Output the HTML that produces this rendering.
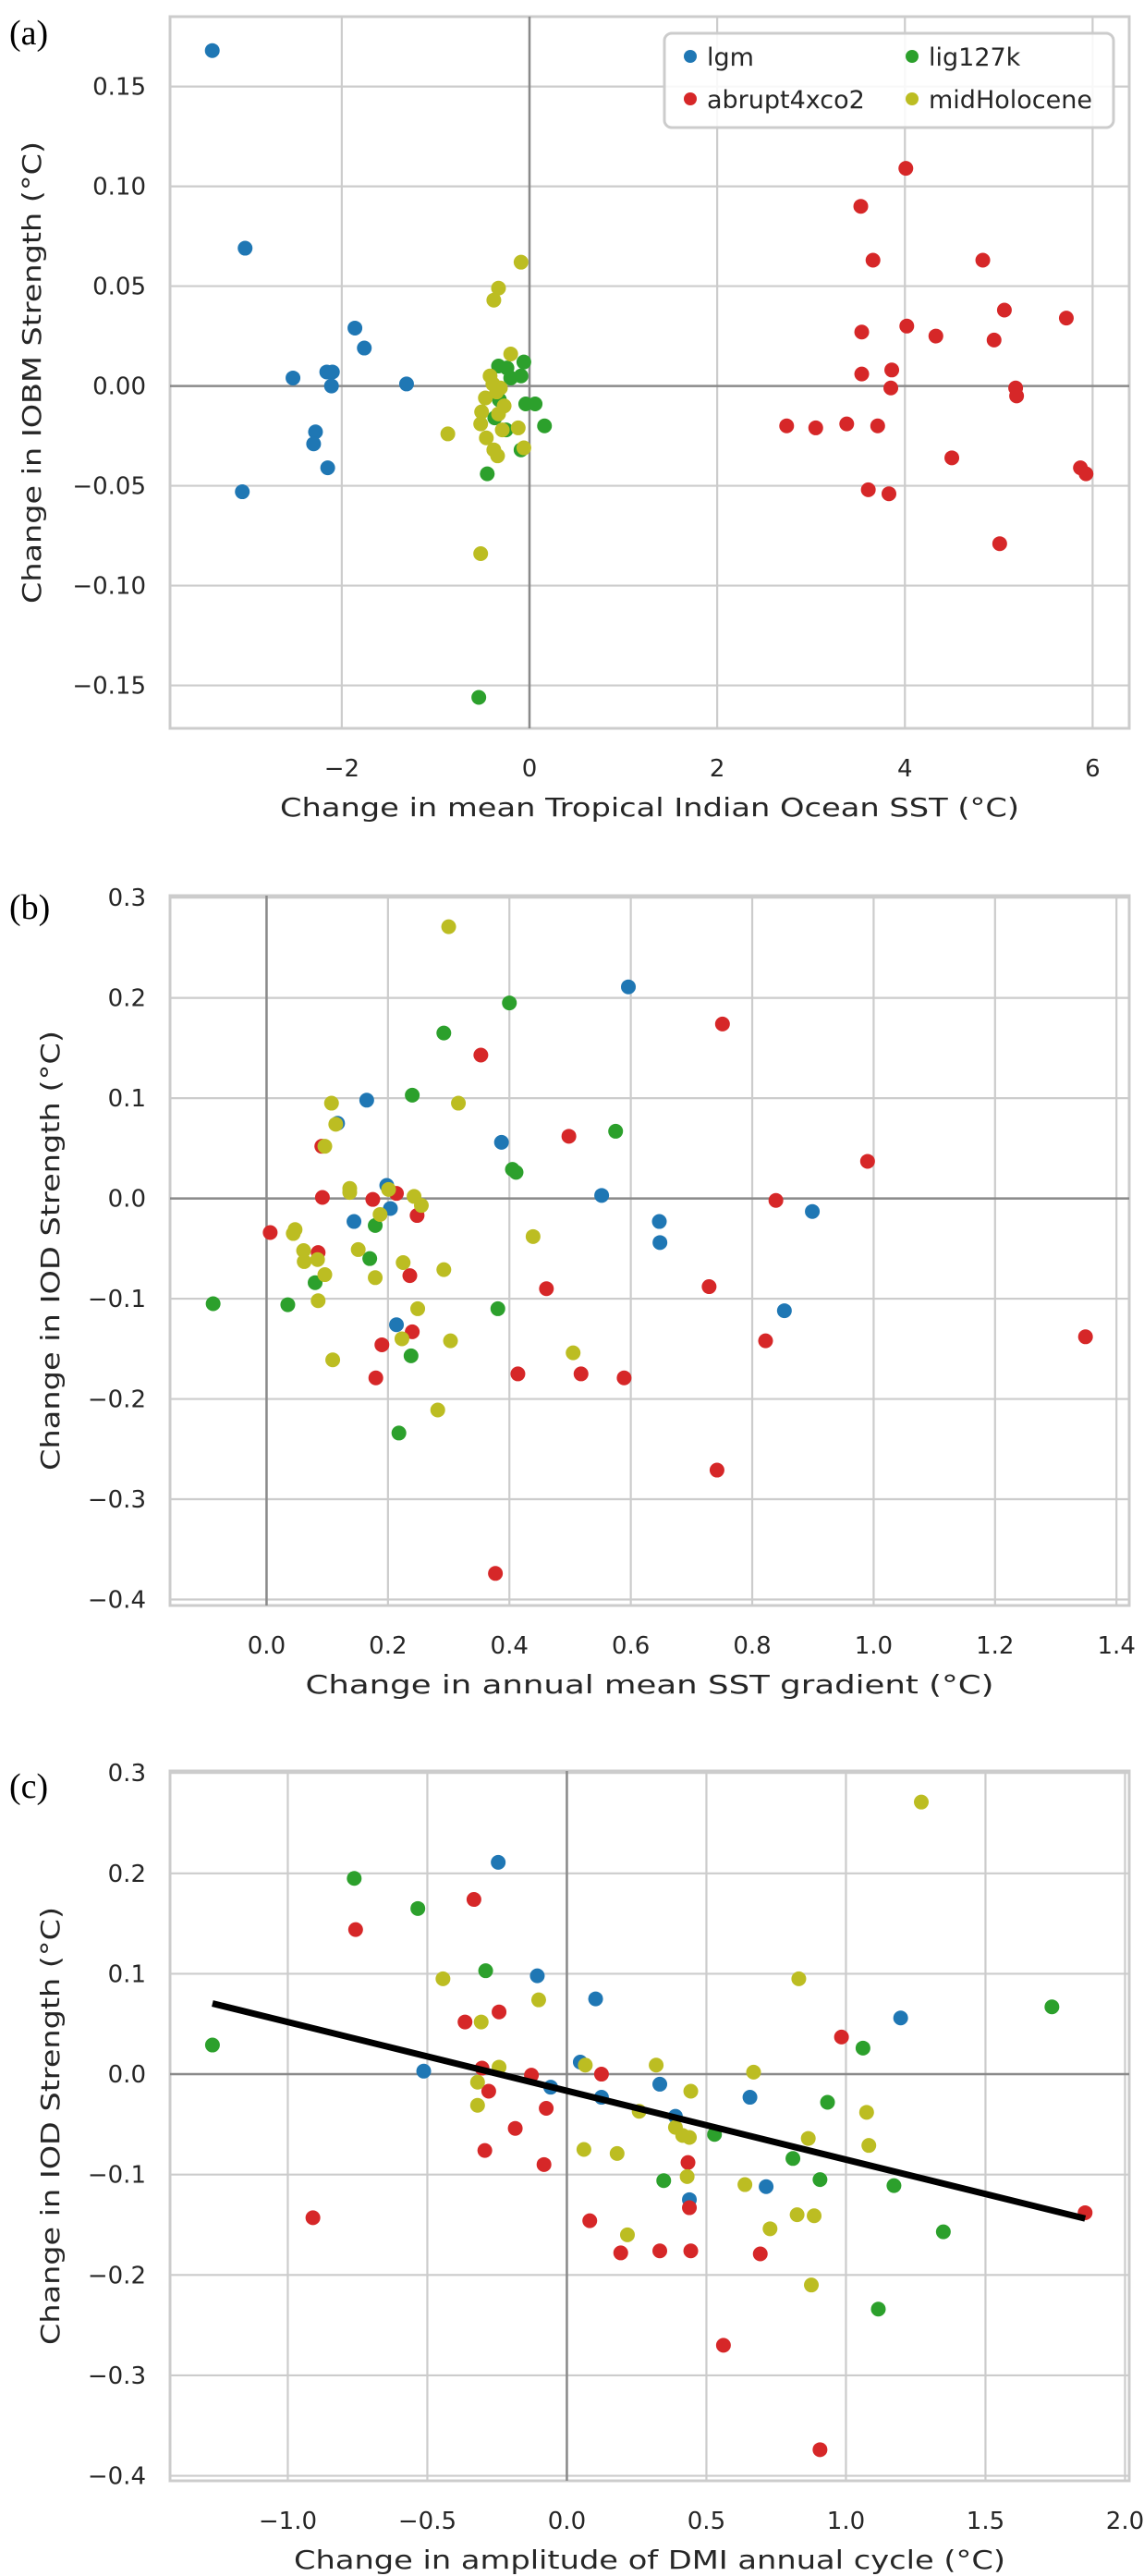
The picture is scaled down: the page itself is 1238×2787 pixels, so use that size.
<!DOCTYPE html>
<html><head><meta charset="utf-8">
<style>
html,body{margin:0;padding:0;background:#fff;}
svg{display:block;font-family:"DejaVu Sans","Liberation Sans",sans-serif;}
</style></head>
<body>
<svg id="fig" width="1238" height="2787" viewBox="0 0 1238 2787" xmlns="http://www.w3.org/2000/svg"></svg>
<script>
// ---------- Panel (a) data ----------
const aXTicks = [-2, 0, 2, 4, 6];
const aXTickLabels = ["\u22122", "0", "2", "4", "6"];
const aYTicks = [0.15, 0.10, 0.05, 0.00, -0.05, -0.10, -0.15];
const aYTickLabels = ["0.15", "0.10", "0.05", "0.00", "\u22120.05", "\u22120.10", "\u22120.15"];
const aLgmX = [-3.38,-3.03,-3.06,-2.52,-2.16,-2.10,-2.11,-1.86,-1.76,-2.28,-2.30,-2.15,-1.31];
const aLgmY = [0.168,0.069,-0.053,0.004,0.007,0.007,0.0,0.029,0.019,-0.023,-0.029,-0.041,0.001];
const aAbrX = [4.01,3.53,3.66,4.83,5.06,5.72,4.02,3.54,4.33,4.95,3.54,3.86,3.85,5.18,5.19,2.74,3.05,3.38,3.71,4.50,3.61,3.83,5.01,5.87,5.93];
const aAbrY = [0.109,0.090,0.063,0.063,0.038,0.034,0.030,0.027,0.025,0.023,0.006,0.008,-0.001,-0.001,-0.005,-0.020,-0.021,-0.019,-0.020,-0.036,-0.052,-0.054,-0.079,-0.041,-0.044];
const aLigX = [-0.33,-0.24,-0.06,-0.09,-0.20,-0.32,-0.04,0.06,-0.37,-0.25,0.16,-0.09,-0.45,-0.54];
const aLigY = [0.010,0.009,0.012,0.005,0.004,-0.007,-0.009,-0.009,-0.016,-0.022,-0.020,-0.032,-0.044,-0.156];
const aMhX = [-0.09,-0.33,-0.38,-0.20,-0.42,-0.39,-0.31,-0.35,-0.47,-0.27,-0.51,-0.33,-0.52,-0.87,-0.12,-0.29,-0.46,-0.06,-0.38,-0.34,-0.52];
const aMhY = [0.062,0.049,0.043,0.016,0.005,0.001,-0.001,-0.003,-0.006,-0.010,-0.013,-0.014,-0.019,-0.024,-0.021,-0.022,-0.026,-0.031,-0.032,-0.035,-0.084];

// ---------- Panel (b) data ----------
const bXTicks = [0.0,0.2,0.4,0.6,0.8,1.0,1.2,1.4];
const bXTickLabels = ["0.0","0.2","0.4","0.6","0.8","1.0","1.2","1.4"];
const bYTicks = [0.3,0.2,0.1,0.0,-0.1,-0.2,-0.3,-0.4];
const bYTickLabels = ["0.3","0.2","0.1","0.0","\u22120.1","\u22120.2","\u22120.3","\u22120.4"];
const bLgmX = [0.596,0.165,0.117,0.387,0.198,0.204,0.144,0.552,0.647,0.648,0.899,0.853,0.214];
const bLgmY = [0.211,0.098,0.075,0.056,0.013,-0.010,-0.023,0.003,-0.023,-0.044,-0.013,-0.112,-0.126];
const bAbrX = [0.751,0.353,0.498,0.990,0.091,0.214,0.092,0.175,0.248,0.839,0.006,0.085,0.236,0.461,0.729,0.240,0.190,0.822,1.349,0.180,0.414,0.518,0.589,0.742,0.377];
const bAbrY = [0.174,0.143,0.062,0.037,0.052,0.005,0.001,-0.001,-0.017,-0.002,-0.034,-0.054,-0.077,-0.090,-0.088,-0.133,-0.146,-0.142,-0.138,-0.179,-0.175,-0.175,-0.179,-0.271,-0.374];
const bLigX = [0.400,0.292,0.240,0.575,0.405,0.411,0.179,0.170,0.080,-0.088,0.035,0.381,0.238,0.218];
const bLigY = [0.195,0.165,0.103,0.067,0.029,0.026,-0.027,-0.060,-0.084,-0.105,-0.106,-0.110,-0.157,-0.234];
const bMhX = [0.300,0.107,0.316,0.114,0.096,0.137,0.137,0.201,0.243,0.255,0.187,0.047,0.044,0.439,0.151,0.061,0.084,0.062,0.225,0.292,0.096,0.179,0.085,0.249,0.223,0.303,0.505,0.109,0.282];
const bMhY = [0.271,0.095,0.095,0.074,0.052,0.010,0.006,0.009,0.002,-0.007,-0.016,-0.031,-0.035,-0.038,-0.051,-0.052,-0.061,-0.063,-0.064,-0.071,-0.076,-0.079,-0.102,-0.110,-0.140,-0.142,-0.154,-0.161,-0.211];

// ---------- Panel (c) data ----------
const cXTicks = [-1.0,-0.5,0.0,0.5,1.0,1.5,2.0];
const cXTickLabels = ["\u22121.0","\u22120.5","0.0","0.5","1.0","1.5","2.0"];
const cYTicks = bYTicks;
const cYTickLabels = bYTickLabels;
const cLgmX = [-0.246,-0.106,0.103,1.196,0.048,-0.513,-0.058,0.124,0.333,0.656,0.389,0.714,0.439];
const cLgmY = [0.211,0.098,0.075,0.056,0.012,0.003,-0.013,-0.023,-0.010,-0.023,-0.042,-0.112,-0.125];
const cAbrX = [-0.333,-0.757,-0.243,-0.365,0.984,-0.304,-0.127,0.124,-0.280,-0.074,-0.185,-0.294,-0.082,0.434,0.439,0.082,-0.910,1.857,0.193,0.333,0.444,0.693,0.561,0.907];
const cAbrY = [0.174,0.144,0.062,0.052,0.037,0.006,-0.001,0.000,-0.017,-0.034,-0.054,-0.076,-0.090,-0.088,-0.133,-0.146,-0.143,-0.138,-0.178,-0.176,-0.176,-0.179,-0.270,-0.374];
const cLigX = [-0.762,-0.534,-0.291,1.738,-1.270,1.061,0.934,0.529,0.810,0.347,0.907,1.172,1.349,1.116];
const cLigY = [0.195,0.165,0.103,0.067,0.029,0.026,-0.028,-0.060,-0.084,-0.106,-0.105,-0.111,-0.157,-0.234];
const cMhX = [1.270,-0.444,0.831,-0.101,-0.307,-0.243,0.066,0.320,0.669,-0.320,0.444,0.259,1.074,0.389,0.415,0.439,-0.320,0.865,1.082,0.061,0.180,0.431,0.638,0.825,0.886,0.728,0.217,0.876];
const cMhY = [0.271,0.095,0.095,0.074,0.052,0.007,0.009,0.009,0.002,-0.008,-0.017,-0.037,-0.038,-0.053,-0.061,-0.063,-0.031,-0.064,-0.071,-0.075,-0.079,-0.102,-0.110,-0.140,-0.141,-0.154,-0.160,-0.210];

const legendNames = ["lgm","lig127k","abrupt4xco2","midHolocene"];
const COL = {lgm:"#1f77b4", abr:"#d62728", lig:"#2ca02c", mh:"#bcbd22"};

const NS = "http://www.w3.org/2000/svg";
const svg = document.getElementById("fig");
function mk(tag, attrs, parent){
  const e = document.createElementNS(NS, tag);
  for (const k in attrs) e.setAttribute(k, attrs[k]);
  (parent||svg).appendChild(e);
  return e;
}

function panel(cfg){
  const g = mk("g", {});
  
  
  const sx = v => cfg.L + (v - cfg.xmin) / (cfg.xmax - cfg.xmin) * (cfg.R - cfg.L);
  const sy = v => cfg.B - (v - cfg.ymin) / (cfg.ymax - cfg.ymin) * (cfg.B - cfg.T);
  // grid
  cfg.xt.forEach((t,i)=>{
    const x = sx(t);
    const l = mk("line",{x1:x,x2:x,y1:cfg.T,y2:cfg.B,stroke:"#cccccc","stroke-width":2.2},g);
    
    
    const tx = mk("text",{x:x,y:cfg.B+52,"font-size":26,fill:"#262626","text-anchor":"middle"},g);
    tx.textContent = cfg.xtl[i];
    
    
  });
  cfg.yt.forEach((t,i)=>{
    const y = sy(t);
    const l = mk("line",{x1:cfg.L,x2:cfg.R,y1:y,y2:y,stroke:"#cccccc","stroke-width":2.2},g);
    
    
    const tx = mk("text",{x:cfg.L-26,y:y+9,"font-size":26,fill:"#262626","text-anchor":"end"},g);
    tx.textContent = cfg.ytl[i];
    
    
  });
  // frame
  const fr = mk("rect",{x:cfg.L,y:cfg.T,width:cfg.R-cfg.L,height:cfg.B-cfg.T,fill:"none",stroke:"#cccccc","stroke-width":3},g);
  
  
  // zero lines
  const zv = mk("line",{x1:sx(0),x2:sx(0),y1:cfg.T,y2:cfg.B,stroke:"#8a8a8a","stroke-width":2.5},g);
  
  
  const zh = mk("line",{x1:cfg.L,x2:cfg.R,y1:sy(0),y2:sy(0),stroke:"#8a8a8a","stroke-width":2.5},g);
  
  
  // points
  cfg.series.forEach(s=>{
    s.x.forEach((xv,i)=>{
      const c = mk("circle",{cx:sx(xv),cy:sy(s.y[i]),r:8,fill:s.c},g);
      
      
    });
  });
  // regression
  if (cfg.fit){
    let xs=[],ys=[];
    cfg.series.forEach(s=>{xs=xs.concat(s.x);ys=ys.concat(s.y);});
    const n=xs.length, mx=xs.reduce((a,b)=>a+b,0)/n, my=ys.reduce((a,b)=>a+b,0)/n;
    let sxy=0,sxx=0; for(let i=0;i<n;i++){sxy+=(xs[i]-mx)*(ys[i]-my);sxx+=(xs[i]-mx)**2;}
    const m=sxy/sxx, b=my-m*mx;
    const x0=Math.min(...xs), x1=Math.max(...xs);
    const ln = mk("line",{x1:sx(x0),y1:sy(m*x0+b),x2:sx(x1),y2:sy(m*x1+b),stroke:"#000","stroke-width":7},g);
    
    
  }
  // labels
  const xl = mk("text",{x:(cfg.L+cfg.R)/2,y:cfg.B+95,"font-size":28,fill:"#262626","text-anchor":"middle",textLength:cfg.xlLen,lengthAdjust:"spacingAndGlyphs"},g);
  xl.textContent = cfg.xlabel;
  
  
  const cy=(cfg.T+cfg.B)/2;
  const yl = mk("text",{x:cfg.ylx,y:cy,"font-size":28,fill:"#262626","text-anchor":"middle",transform:`rotate(-90 ${cfg.ylx} ${cy})`,textLength:cfg.ylLen,lengthAdjust:"spacingAndGlyphs"},g);
  yl.textContent = cfg.ylabel;
  
  
  const pl = mk("text",{x:10,y:cfg.plY,"font-size":38,fill:"#000","font-family":"Liberation Serif, serif"},g);
  pl.textContent = cfg.plabel;
  
  
  return g;
}

panel({name:"panel-a",L:184,R:1222,T:18,B:788,xmin:-3.83,xmax:6.39,ymin:-0.1715,ymax:0.185,
  xt:aXTicks,xtl:aXTickLabels,yt:aYTicks,ytl:aYTickLabels,
  xlabel:"Change in mean Tropical Indian Ocean SST (\u00B0C)",xlLen:800,
  ylabel:"Change in IOBM Strength (\u00B0C)",ylx:44,ylLen:500,plabel:"(a)",plY:48,
  series:[{n:"lgm",x:aLgmX,y:aLgmY,c:COL.lgm},{n:"abrupt4xco2",x:aAbrX,y:aAbrY,c:COL.abr},{n:"lig127k",x:aLigX,y:aLigY,c:COL.lig},{n:"midholocene",x:aMhX,y:aMhY,c:COL.mh}]});

panel({name:"panel-b",L:184,R:1222,T:969,B:1737,xmin:-0.159,xmax:1.421,ymin:-0.406,ymax:0.302,
  xt:bXTicks,xtl:bXTickLabels,yt:bYTicks,ytl:bYTickLabels,
  xlabel:"Change in annual mean SST gradient (\u00B0C)",xlLen:745,
  ylabel:"Change in IOD Strength (\u00B0C)",ylx:64,ylLen:476,plabel:"(b)",plY:994,
  series:[{n:"lgm",x:bLgmX,y:bLgmY,c:COL.lgm},{n:"abrupt4xco2",x:bAbrX,y:bAbrY,c:COL.abr},{n:"lig127k",x:bLigX,y:bLigY,c:COL.lig},{n:"midholocene",x:bMhX,y:bMhY,c:COL.mh}]});

panel({name:"panel-c",L:184,R:1222,T:1916,B:2684,xmin:-1.422,xmax:2.015,ymin:-0.405,ymax:0.302,
  xt:cXTicks,xtl:cXTickLabels,yt:cYTicks,ytl:cYTickLabels,
  xlabel:"Change in amplitude of DMI annual cycle (\u00B0C)",xlLen:770,
  ylabel:"Change in IOD Strength (\u00B0C)",ylx:64,ylLen:474,plabel:"(c)",plY:1945,fit:true,
  series:[{n:"lgm",x:cLgmX,y:cLgmY,c:COL.lgm},{n:"abrupt4xco2",x:cAbrX,y:cAbrY,c:COL.abr},{n:"lig127k",x:cLigX,y:cLigY,c:COL.lig},{n:"midholocene",x:cMhX,y:cMhY,c:COL.mh}]});

// legend
const lg = mk("g",{});


const lbox = mk("rect",{x:719,y:36,width:486,height:102,rx:8,fill:"#fff","fill-opacity":0.85,stroke:"#cccccc","stroke-width":3},lg);


const legCols=[COL.lgm,COL.lig,COL.abr,COL.mh];
legendNames.forEach((nm,i)=>{
  const col=i%2, row=Math.floor(i/2);
  const mx = col===0?747:987, my = row===0?61:107;
  const c = mk("circle",{cx:mx,cy:my,r:7,fill:legCols[i]},lg);
  
  
  const t = mk("text",{x:mx+18,y:my+10,"font-size":27,fill:"#262626"},lg);
  t.textContent = nm;
  
  
});
</script>
</body></html>
